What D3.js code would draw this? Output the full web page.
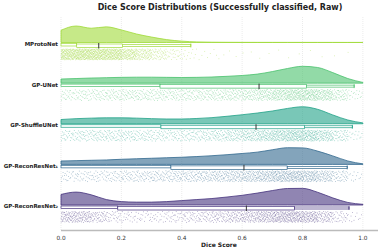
<!DOCTYPE html>
<html>
<head>
<meta charset="utf-8">
<script src="https://cdn.jsdelivr.net/npm/d3@7"></script>
<style>
  body { margin: 0; background: #fff; }
  svg { display: block; font-family: "DejaVu Sans", sans-serif; }
</style>
</head>
<body>
<div id="vis"></div>
<script>
// models, top to bottom
var models = ["MProtoNet", "GP-UNet", "GP-ShuffleUNet", "GP-ReconResNet\u2081", "GP-ReconResNet\u2082"];
var colors = ["#a0da39", "#4ac16d", "#1fa187", "#31688e", "#46337e"];

// x positions where the density curves were read (dice score)
var densX = [0, 0.05, 0.1, 0.15, 0.2, 0.25, 0.3, 0.35, 0.4, 0.45, 0.5, 0.55, 0.6, 0.65, 0.7, 0.75, 0.8, 0.85, 0.9, 0.95, 1.0];

// relative density (1 = tallest point of that row)
var densMProto  = [0.72, 0.97, 0.84, 0.92, 0.74, 0.5, 0.32, 0.17, 0.08, 0.035, 0.018, 0.012, 0.01, 0.008, 0.008, 0.007, 0.007, 0.006, 0.006, 0.005, 0.005];
var densUNet    = [0.24, 0.27, 0.3, 0.32, 0.34, 0.35, 0.35, 0.34, 0.33, 0.34, 0.36, 0.4, 0.45, 0.53, 0.68, 0.86, 0.99, 0.92, 0.62, 0.27, 0.04];
var densShuffle = [0.25, 0.3, 0.33, 0.35, 0.35, 0.33, 0.3, 0.28, 0.28, 0.31, 0.36, 0.44, 0.53, 0.63, 0.75, 0.9, 1.0, 0.85, 0.52, 0.22, 0.05];
var densRecon1  = [0.2, 0.22, 0.24, 0.26, 0.3, 0.33, 0.36, 0.39, 0.42, 0.46, 0.51, 0.57, 0.64, 0.72, 0.86, 0.98, 0.97, 0.78, 0.5, 0.2, 0.03];
var densRecon2  = [0.62, 0.76, 0.6, 0.32, 0.2, 0.17, 0.17, 0.2, 0.26, 0.32, 0.38, 0.47, 0.57, 0.7, 0.85, 0.97, 0.98, 0.75, 0.42, 0.15, 0.04];
var densities = [densMProto, densUNet, densShuffle, densRecon1, densRecon2];

// box plot stats: whisker low, Q1, median, Q3, whisker high
var whiskLo = [0, 0, 0, 0, 0];
var q1      = [0.052, 0.328, 0.331, 0.364, 0.188];
var median  = [0.125, 0.656, 0.646, 0.606, 0.614];
var q3      = [0.204, 0.813, 0.807, 0.749, 0.773];
var whiskHi = [0.43, 0.971, 0.965, 0.948, 0.954];

var xTicks = [0, 0.2, 0.4, 0.6, 0.8, 1.0];
var nPoints = 1100;

var svg = d3.select("div#vis")
  .append("svg")
  .attr("width", 381)
  .attr("height", 251);

var x = d3.scaleLinear()
    .domain([0, 1.05])
    .range([61, 378]);

var base = d3.scalePoint()
    .domain(models)
    .range([42.5, 205]);

var h = d3.scaleLinear()
    .domain([0, 1])
    .range([0, 17]);

var plotTop = 17, axisY = 230.5;

// title
svg.append("text")
  .attr("x", 220)
  .attr("y", 10)
  .attr("text-anchor", "middle")
  .attr("font-size", 8)
  .attr("font-weight", "bold")
  .attr("fill", "#222")
  .text("Dice Score Distributions (Successfully classified, Raw)");

// grid
svg.append("g")
  .selectAll("line")
  .data(xTicks)
  .enter().append("line")
    .attr("x1", function(d) { return x(d); })
    .attr("x2", function(d) { return x(d); })
    .attr("y1", plotTop)
    .attr("y2", axisY)
    .attr("stroke", "#ddd")
    .attr("stroke-width", 0.6)
    .attr("stroke-dasharray", "1,1");

// sample points follow the density: x by inverse cdf, placed with a halton sequence
function halton(i, b) {
  var f = 1, r = 0;
  while (i > 0) { f = f / b; r += f * (i % b); i = Math.floor(i / b); }
  return r;
}

function inverseCdf(dens) {
  var cum = [0];
  for (var i = 1; i < densX.length; i++) {
    cum.push(cum[i - 1] + (dens[i - 1] + dens[i]) / 2 * (densX[i] - densX[i - 1]));
  }
  var total = cum[cum.length - 1];
  return function(p) {
    var t = p * total;
    var i = d3.bisectRight(cum, t) - 1;
    if (i >= densX.length - 1) i = densX.length - 2;
    var f = (t - cum[i]) / (cum[i + 1] - cum[i]);
    return densX[i] + f * (densX[i + 1] - densX[i]);
  };
}

var area = d3.area()
    .x(function(d) { return x(d[0]); })
    .curve(d3.curveMonotoneX);

models.forEach(function(m, k) {
  var b = base(m);
  var c = colors[k];
  var g = svg.append("g");
  var pts = densX.map(function(v, i) { return [v, densities[k][i]]; });

  // half violin
  g.append("path")
    .datum(pts)
    .attr("d", area.y0(b).y1(function(d) { return b - h(d[1]); }))
    .attr("fill", c)
    .attr("fill-opacity", 0.6)
    .attr("stroke", c)
    .attr("stroke-width", 0.8);

  // points
  var inv = inverseCdf(densities[k]);
  g.append("g")
    .selectAll("rect")
    .data(d3.range(1, nPoints + 1))
    .enter().append("rect")
      .attr("x", function(i) { return x(inv(halton(i + 17 * k, 2))) - 0.4; })
      .attr("y", function(i) { return b + 6 + halton(i + 17 * k, 3) * 11; })
      .attr("width", 0.8)
      .attr("height", 0.8)
      .attr("fill", c)
      .attr("fill-opacity", 0.5);

  // box
  g.append("rect")
    .attr("x", x(whiskLo[k]))
    .attr("y", b + 1)
    .attr("width", x(q1[k]) - x(whiskLo[k]))
    .attr("height", 2.5)
    .attr("fill", "#fff")
    .attr("stroke", c)
    .attr("stroke-width", 0.7);
  g.append("rect")
    .attr("x", x(q3[k]))
    .attr("y", b + 2)
    .attr("width", x(whiskHi[k]) - x(q3[k]))
    .attr("height", 2)
    .attr("fill", "#fff")
    .attr("stroke", c)
    .attr("stroke-width", 0.7);
  g.append("line")
    .attr("x1", x(whiskHi[k])).attr("x2", x(whiskHi[k]))
    .attr("y1", b + 1).attr("y2", b + 5)
    .attr("stroke", c)
    .attr("stroke-width", 0.8);
  g.append("rect")
    .attr("x", x(q1[k]))
    .attr("y", b + 1.5)
    .attr("width", x(q3[k]) - x(q1[k]))
    .attr("height", 3.5)
    .attr("fill", "#fff")
    .attr("stroke", c)
    .attr("stroke-width", 0.7);
  g.append("line")
    .attr("x1", x(median[k])).attr("x2", x(median[k]))
    .attr("y1", b + 0.5).attr("y2", b + 6)
    .attr("stroke", "#333")
    .attr("stroke-width", 1);

  // label
  svg.append("text")
    .attr("x", 58)
    .attr("y", b + 1.5)
    .attr("dy", "0.35em")
    .attr("text-anchor", "end")
    .attr("font-size", 5.5)
    .attr("font-weight", "bold")
    .attr("fill", "#222")
    .text(m);
});

// x axis
svg.append("line")
  .attr("x1", x(0)).attr("x2", x(1.05))
  .attr("y1", axisY).attr("y2", axisY)
  .attr("stroke", "#bbb")
  .attr("stroke-width", 1.6);

svg.append("g")
  .selectAll("text")
  .data(xTicks)
  .enter().append("text")
    .attr("x", function(d) { return x(d); })
    .attr("y", 239.5)
    .attr("text-anchor", "middle")
    .attr("font-size", 5.8)
    .attr("fill", "#333")
    .text(function(d) { return d3.format(".1f")(d); });

svg.append("text")
  .attr("x", 219)
  .attr("y", 247)
  .attr("text-anchor", "middle")
  .attr("font-size", 6)
  .attr("font-weight", "bold")
  .attr("fill", "#222")
  .text("Dice Score");
</script>
</body>
</html>
